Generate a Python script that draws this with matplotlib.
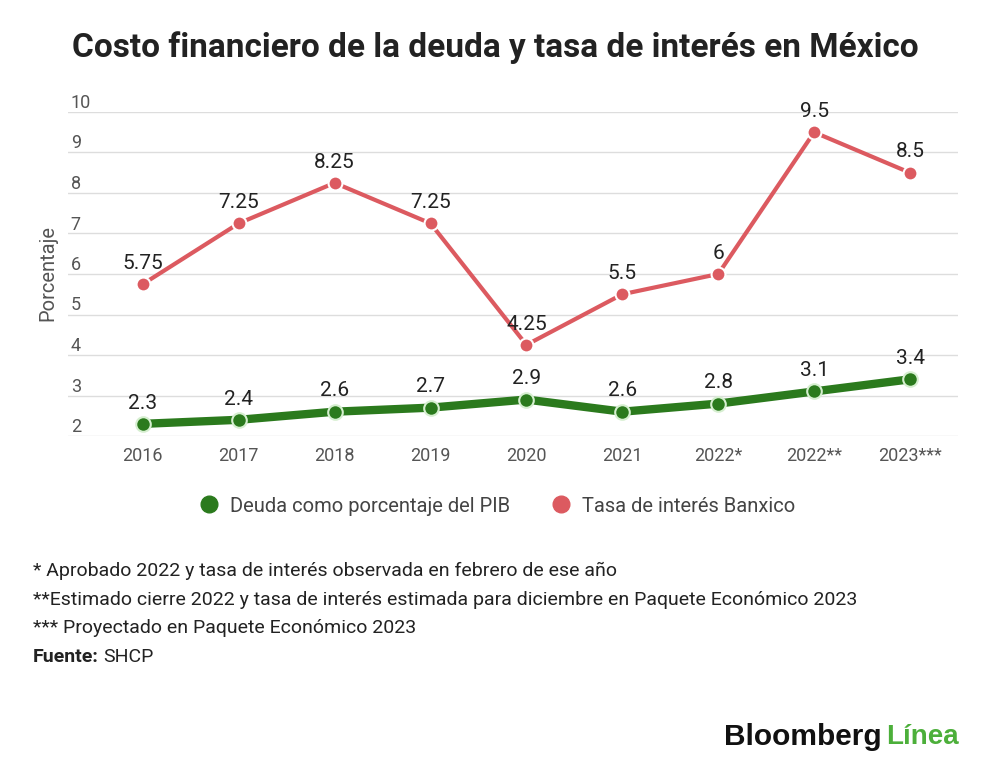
import matplotlib
matplotlib.use('Agg')
import matplotlib.pyplot as plt
from matplotlib.lines import Line2D

matplotlib.rcParams['font.family'] = ['Roboto', 'DejaVu Sans']

# Data
years = ['2016', '2017', '2018', '2019', '2020', '2021', '2022*', '2022**', '2023***']
deuda_pib = [2.3, 2.4, 2.6, 2.7, 2.9, 2.6, 2.8, 3.1, 3.4]
tasa_banxico = [5.75, 7.25, 8.25, 7.25, 4.25, 5.5, 6, 9.5, 8.5]
deuda_labels = ['2.3', '2.4', '2.6', '2.7', '2.9', '2.6', '2.8', '3.1', '3.4']
tasa_labels = ['5.75', '7.25', '8.25', '7.25', '4.25', '5.5', '6', '9.5', '8.5']
y_ticks = [2, 3, 4, 5, 6, 7, 8, 9, 10]

footnotes = [
    '* Aprobado 2022 y tasa de interés observada en febrero de ese año',
    '**Estimado cierre 2022 y tasa de interés estimada para diciembre en Paquete Económico 2023',
    '*** Proyectado en Paquete Económico 2023',
]

green = '#2b7a1d'
red = '#dc5a60'
W, H = 1000, 775

fig = plt.figure(figsize=(W / 100, H / 100), dpi=100)
ax = fig.add_axes([68 / W, 1 - 436 / H, 890 / W, 324 / H])

x = list(range(len(years)))

ax.plot(x, tasa_banxico, color=red, lw=3, marker='o', ms=10, mfc=red,
        mec='white', mew=1.5, zorder=3, solid_capstyle='round')
ax.plot(x, deuda_pib, color=green, lw=6, marker='o', ms=10.5, mfc=green,
        mec='#d6efd0', mew=1.5, zorder=3)

for xi, v, s in zip(x, tasa_banxico, tasa_labels):
    ax.annotate(s, (xi, v), xytext=(0, 11), textcoords='offset points',
                ha='center', va='baseline', fontsize=15, color='#222222', zorder=4)
for xi, v, s in zip(x, deuda_pib, deuda_labels):
    ax.annotate(s, (xi, v), xytext=(0, 11), textcoords='offset points',
                ha='center', va='baseline', fontsize=15, color='#222222', zorder=4)

ax.set_xlim(-0.78, 8.5)
ax.set_ylim(2, 10)
ax.set_xticks(x)
ax.set_xticklabels(years)
ax.set_yticks(y_ticks)
ax.set_yticklabels([str(t) for t in y_ticks])
ax.tick_params(axis='x', length=0, pad=8, labelsize=13, labelcolor='#555555')
ax.tick_params(axis='y', length=0, pad=-2, labelsize=13, labelcolor='#555555')
for lab in ax.get_yticklabels():
    lab.set_horizontalalignment('left')
    lab.set_verticalalignment('bottom')
ax.grid(axis='y', color='#dddddd', lw=1)
ax.set_axisbelow(True)
for sp in ax.spines.values():
    sp.set_visible(False)

fig.text(48 / W, 1 - 273 / H, 'Porcentaje', rotation=90, ha='center', va='center',
         fontsize=14.5, color='#555555')

# Title
fig.text(495 / W, 1 - 48 / H, 'Costo financiero de la deuda y tasa de interés en México',
         ha='center', va='center', fontsize=24, fontweight='bold', color='#222222')

# Legend
handles = [Line2D([], [], ls='', marker='o', ms=12, color=green),
           Line2D([], [], ls='', marker='o', ms=12, color=red)]
fig.legend(handles, ['Deuda como porcentaje del PIB', 'Tasa de interés Banxico'],
           loc='center', bbox_to_anchor=(497 / W, 1 - 506 / H), ncol=2, frameon=False,
           fontsize=14.5, labelcolor='#444444', handletextpad=0.55, columnspacing=2.0,
           handlelength=1.0)

# Footnotes
for i, t in enumerate(footnotes):
    fig.text(33 / W, 1 - (571 + 28.7 * i) / H, t, ha='left', va='center',
             fontsize=14, color='#222222')
fig.canvas.draw()
r = fig.canvas.get_renderer()
t1 = fig.text(33 / W, 1 - 657 / H, 'Fuente:', ha='left', va='center', fontsize=14,
              fontweight='bold', color='#222222')
bb = t1.get_window_extent(r)
fig.text((bb.x1 + 4) / W, 1 - 657 / H, 'SHCP', ha='left', va='center', fontsize=14,
         color='#222222')

# Logo
logo_font = ['Liberation Sans', 'Roboto']
t2 = fig.text(724 / W, 1 - 737 / H, 'Bloomberg', ha='left', va='center', fontsize=21.5,
              fontweight='bold', color='#111111', family=logo_font)
bb = t2.get_window_extent(r)
fig.text((bb.x1 + 5) / W, 1 - 737 / H, 'Línea', ha='left', va='center', fontsize=20,
         fontweight='bold', color='#4caf3a', family=logo_font)

fig.savefig('out.png', dpi=100)
